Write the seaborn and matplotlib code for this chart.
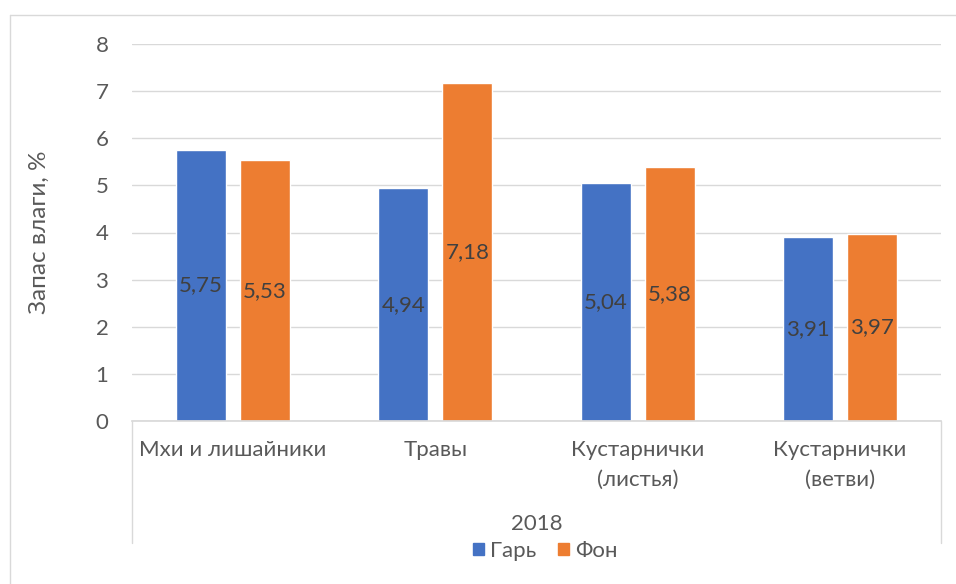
import pandas as pd
import matplotlib.pyplot as plt
import seaborn as sns
from matplotlib.lines import Line2D
from matplotlib.patches import Patch

# Данные
categories = ['Мхи и лишайники', 'Травы', 'Кустарнички\n(листья)', 'Кустарнички\n(ветви)']
gar = [5.75, 4.94, 5.04, 3.91]
fon = [5.53, 7.18, 5.38, 3.97]
series = ['Гарь', 'Фон']
year = '2018'
y_ticks = [0, 1, 2, 3, 4, 5, 6, 7, 8]
colors = ['#4472C4', '#ED7D31']

df = pd.DataFrame({
    'cat': categories * 2,
    'val': gar + fon,
    'series': [series[0]] * len(gar) + [series[1]] * len(fon),
})

sns.set_theme(style='white')
plt.rcParams['font.family'] = ['Lato', 'DejaVu Sans']

fig = plt.figure(figsize=(9.56, 5.84), dpi=100)
ax = fig.add_axes([132 / 956, 1 - 421 / 584, (941 - 132) / 956, (421 - 44) / 584])

sns.barplot(data=df, x='cat', y='val', hue='series', palette=colors,
            width=0.632, gap=0.218, saturation=1, errorbar=None,
            legend=False, ax=ax)

# Подписи значений
for cont, vals in zip(ax.containers, [gar, fon]):
    ax.bar_label(cont, labels=[f'{v:.2f}'.replace('.', ',') for v in vals],
                 label_type='center', color='#404040', fontsize=16)

ax.set_ylim(0, 8)
ax.set_xlim(-0.5, 3.5)
ax.set_yticks(y_ticks)
ax.set_xlabel('')
ax.set_ylabel('')
ax.yaxis.grid(True, color='#d9d9d9', lw=1)
ax.set_axisbelow(True)
for s in ['left', 'top', 'right']:
    ax.spines[s].set_visible(False)
ax.spines['bottom'].set_color('#d9d9d9')
ax.tick_params(axis='y', length=0, pad=17, labelsize=16, labelcolor='#595959')
ax.tick_params(axis='x', length=0, pad=14, labelsize=16, labelcolor='#595959')
for lbl in ax.get_xticklabels():
    lbl.set_linespacing(1.6)

# Многоуровневая ось категорий
for x in (0, 1):
    ax.plot([x, x], [0, -(543 - 421) / 377], transform=ax.transAxes,
            clip_on=False, color='#d9d9d9', lw=1)
ax.text(0.5, -(524 - 421) / 377, year, transform=ax.transAxes,
        ha='center', va='center', fontsize=16, color='#595959')

fig.text(39 / 956, 1 - 232 / 584, 'Запас влаги, %', rotation=90,
         ha='center', va='center', fontsize=17.5, color='#595959')

handles = [Patch(color=c, label=s) for c, s in zip(colors, series)]
fig.legend(handles=handles, loc='center', bbox_to_anchor=(545 / 956, 1 - 551 / 584),
           ncol=2, frameon=False, handlelength=0.5, handleheight=0.5,
           columnspacing=1.0, handletextpad=0.25, fontsize=16,
           labelcolor='#595959')

# Рамка области диаграммы
fig.add_artist(Line2D([10 / 956, 1], [1 - 15 / 584] * 2, color='#d9d9d9', lw=1))
fig.add_artist(Line2D([10 / 956] * 2, [0, 1 - 15 / 584], color='#d9d9d9', lw=1))

fig.savefig('out.png', dpi=100)
